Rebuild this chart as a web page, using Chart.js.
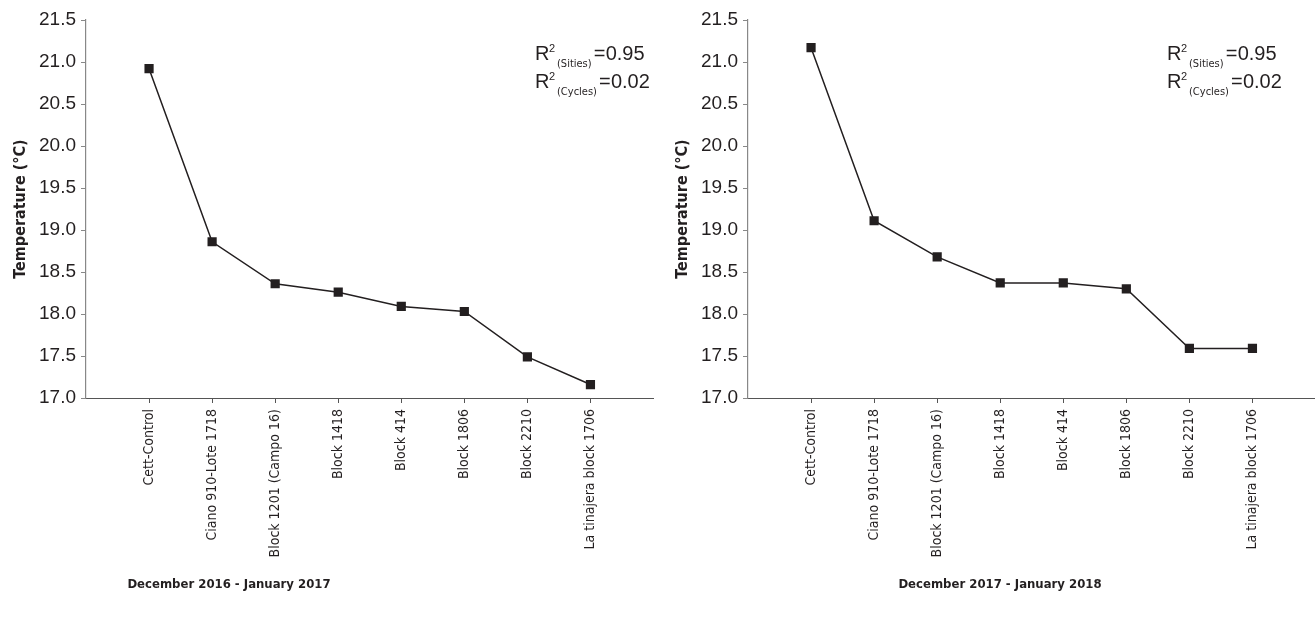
<!DOCTYPE html>
<html>
<head>
<meta charset="utf-8">
<script src="https://cdn.jsdelivr.net/npm/chart.js@4.4.1/dist/chart.umd.min.js"></script>
<style>
  html, body { margin: 0; padding: 0; background: #fff; overflow: hidden; }
  .panel { position: absolute; top: 0; height: 630px; width: 660px; }
  #left { left: 0; }
  #right { left: 662px; }
</style>
</head>
<body>
<div class="panel" id="left"><canvas id="chart2016"></canvas></div>
<div class="panel" id="right"><canvas id="chart2017"></canvas></div>
<script>
const sites = ['Cett-Control', 'Ciano 910-Lote 1718', 'Block 1201 (Campo 16)', 'Block 1418',
    'Block 414', 'Block 1806', 'Block 2210', 'La tinajera block 1706'];
const temp2016 = [20.92, 18.86, 18.36, 18.26, 18.09, 18.03, 17.49, 17.16];
const temp2017 = [21.17, 19.11, 18.68, 18.37, 18.37, 18.30, 17.59, 17.59];
const yMin = 17.0;
const yMax = 21.5;
const yStep = 0.5;
const r2Rows = [['(Sities)', '0.95'], ['(Cycles)', '0.02']];

const narrow = "'DejaVu Sans Condensed', 'Liberation Sans Narrow', 'Liberation Sans', sans-serif";
const plain = "'Liberation Sans', Arial, sans-serif";
const ink = '#231f20';

// R² box in the top right corner and the period caption under the axis
const notes = {
    id: 'notes',
    afterDraw(chart, args, opts) {
        const ctx = chart.ctx;
        const area = chart.chartArea;
        ctx.save();
        ctx.fillStyle = ink;
        ctx.textBaseline = 'alphabetic';
        ctx.textAlign = 'left';
        r2Rows.forEach((row, i) => {
            const x = area.left + opts.r2Offset;
            const y = area.top + 40 + i * 28;
            ctx.font = '20px ' + plain;
            ctx.fillText('R', x, y);
            ctx.font = '11px ' + plain;
            ctx.fillText('2', x + 14, y - 8);
            ctx.font = '11px ' + narrow;
            ctx.fillText(row[0], x + 22, y + 7);
            const w = ctx.measureText(row[0]).width;
            ctx.font = '20px ' + plain;
            ctx.fillText('=', x + 24 + w, y);
            ctx.fillText(row[1], x + 36 + w, y);
        });
        ctx.font = 'bold 13px ' + narrow;
        ctx.textAlign = 'center';
        ctx.fillText(opts.caption, opts.captionX, 588);
        ctx.restore();
    }
};

function makeChart(id, values, caption, captionX, r2Offset) {
    return new Chart(document.getElementById(id), {
        type: 'line',
        data: {
            datasets: [{
                data: values.map((v, i) => ({ x: i + 1, y: v })),
                borderColor: ink,
                borderWidth: 1.5,
                tension: 0,
                pointStyle: 'rect',
                pointRadius: 6.5,
                pointHoverRadius: 6.5,
                pointBackgroundColor: ink,
                pointBorderColor: ink,
                pointBorderWidth: 0
            }]
        },
        options: {
            responsive: true,
            maintainAspectRatio: false,
            animation: false,
            layout: {
                padding: { top: 20, right: 0, left: 0, bottom: 0 }
            },
            scales: {
                x: {
                    type: 'linear',
                    min: 0,
                    max: 9,
                    afterFit: s => {
                        s.height = 232;
                        s.paddingLeft = 0;
                        s.paddingRight = 0;
                    },
                    ticks: {
                        stepSize: 1,
                        autoSkip: false,
                        maxRotation: 90,
                        minRotation: 90,
                        padding: 6,
                        color: ink,
                        font: { family: narrow, size: 14 },
                        callback: v => sites[v - 1] || ''
                    },
                    grid: {
                        drawOnChartArea: false,
                        tickLength: 5,
                        tickColor: c => (c.tick && c.tick.value >= 1 && c.tick.value <= sites.length) ? '#555' : 'rgba(0,0,0,0)'
                    },
                    border: { color: '#555', width: 1 }
                },
                y: {
                    min: yMin,
                    max: yMax,
                    afterFit: s => { s.width = 86; },
                    ticks: {
                        stepSize: yStep,
                        padding: 5,
                        color: ink,
                        font: { family: plain, size: 19 },
                        callback: v => v.toFixed(1)
                    },
                    grid: {
                        drawOnChartArea: false,
                        tickLength: 5,
                        tickColor: '#888'
                    },
                    border: { color: '#888', width: 1.2 },
                    title: {
                        display: true,
                        text: 'Temperature (°C)',
                        color: ink,
                        font: { family: narrow, size: 16, weight: 'bold' },
                        padding: { top: 11, bottom: 0 }
                    }
                }
            },
            plugins: {
                legend: { display: false },
                tooltip: { enabled: false },
                notes: { caption: caption, captionX: captionX, r2Offset: r2Offset }
            }
        },
        plugins: [notes]
    });
}

makeChart('chart2016', temp2016, 'December 2016 - January 2017', 229, 449);
makeChart('chart2017', temp2017, 'December 2017 - January 2018', 338, 419);
</script>
</body>
</html>
